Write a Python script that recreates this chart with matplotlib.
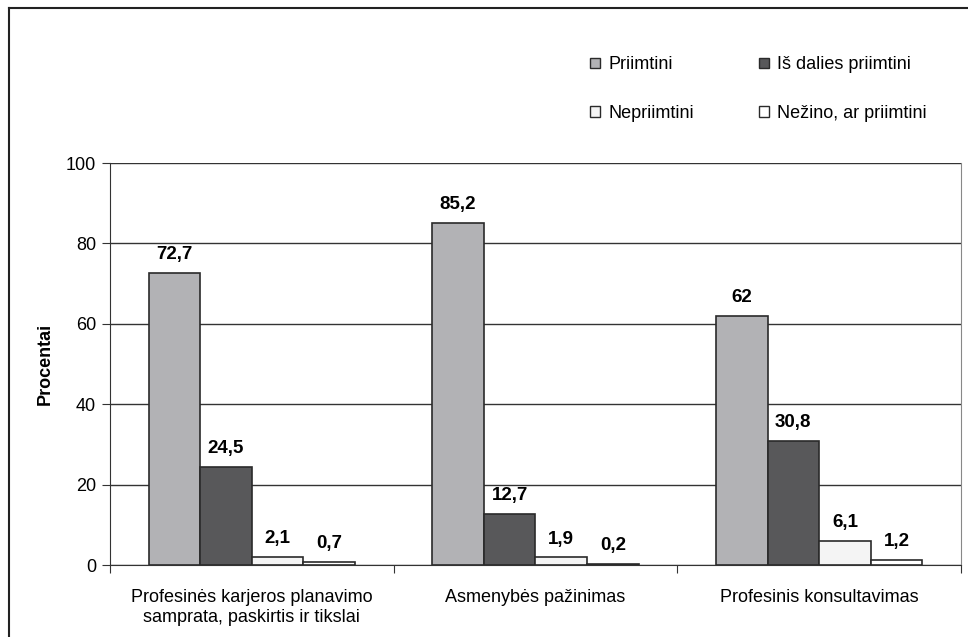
import matplotlib.pyplot as plt
import numpy as np
from matplotlib.patches import Rectangle
from matplotlib.lines import Line2D

plt.rcParams['font.family'] = ['Liberation Sans', 'DejaVu Sans']

categories = ["Profesinės karjeros planavimo\nsamprata, paskirtis ir tikslai",
              "Asmenybės pažinimas",
              "Profesinis konsultavimas"]
series = ["Priimtini", "Iš dalies priimtini", "Nepriimtini", "Nežino, ar priimtini"]
priimtini = [72.7, 85.2, 62]
is_dalies = [24.5, 12.7, 30.8]
nepriimtini = [2.1, 1.9, 6.1]
nezino = [0.7, 0.2, 1.2]
labels = [["72,7", "85,2", "62"], ["24,5", "12,7", "30,8"],
          ["2,1", "1,9", "6,1"], ["0,7", "0,2", "1,2"]]
colors = ["#b2b2b5", "#58585a", "#f4f4f4", "#ffffff"]

fig = plt.figure(figsize=(9.68, 6.37), dpi=100)
ax = fig.add_axes([0.1136, 0.113, 0.8792, 0.631])

x = np.arange(len(categories))
w = 0.182
values = [priimtini, is_dalies, nepriimtini, nezino]
for i, (vals, col, name) in enumerate(zip(values, colors, series)):
    pos = x + (i - 1.5) * w
    bars = ax.bar(pos, vals, w, color=col, edgecolor="#2a2a2a", linewidth=1.2,
                  label=name, zorder=3)
    for b, lab in zip(bars, labels[i]):
        ax.annotate(lab, (b.get_x() + b.get_width() / 2, b.get_height()),
                    xytext=(0, 7), textcoords="offset points",
                    ha="center", va="bottom", fontsize=13.5, fontweight="bold")

ax.set_xlim(-0.5, 2.5)
ax.set_ylim(0, 100)
ax.set_yticks([0, 20, 40, 60, 80, 100])
ax.set_xticks([-0.5, 0.5, 1.5, 2.5], minor=False)
ax.set_xticklabels([])
ax.set_xticks(x, minor=True)
ax.set_xticklabels(categories, minor=True, fontsize=13, linespacing=1.25)
ax.tick_params(axis="x", which="minor", length=0, pad=17)
ax.tick_params(axis="x", which="major", length=6, direction="out", color="#333333")
ax.tick_params(axis="y", length=6, direction="out", labelsize=13, color="#333333", pad=4)
ax.yaxis.grid(True, color="#333333", linewidth=1)
ax.set_axisbelow(True)
ax.set_ylabel("Procentai", fontsize=13, fontweight="bold", labelpad=9)
for s in ["left", "bottom"]:
    ax.spines[s].set_color("#333333")
ax.spines["right"].set_color("#888888")
ax.spines["top"].set_visible(False)

# legend filled row by row: matplotlib fills columns, so reorder
handles = [Rectangle((0, 0), 1, 1, facecolor=c, edgecolor="#2a2a2a", linewidth=1) for c in colors]
order = [0, 2, 1, 3]
fig.legend([handles[k] for k in order], [series[k] for k in order],
           loc="upper left", bbox_to_anchor=(0.593, 0.937), ncol=2,
           frameon=False, fontsize=13, handlelength=0.55, handleheight=0.55,
           handletextpad=0.45, labelspacing=1.75, columnspacing=3.6)

# outer frame (left and top only visible)
fig.add_artist(Line2D([0.0098, 0.0098], [0, 0.987], transform=fig.transFigure,
                      color="#222222", linewidth=1.5))
fig.add_artist(Line2D([0.0098, 1], [0.987, 0.987], transform=fig.transFigure,
                      color="#222222", linewidth=1.5))

fig.savefig("out.png", dpi=100)
